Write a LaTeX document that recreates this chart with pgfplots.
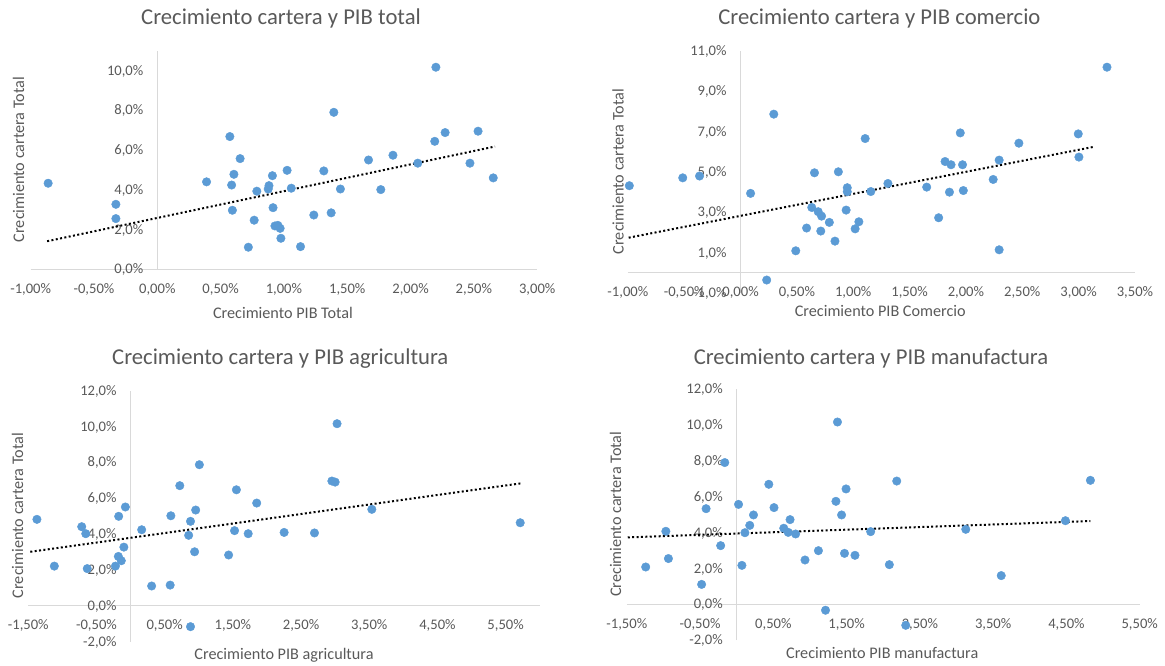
\documentclass[border=0pt]{standalone}
\usepackage{fontspec}
\setmainfont{Carlito}
\usepackage{pgfplots}
\pgfplotsset{compat=1.18}
\definecolor{ptblue}{HTML}{5B9BD5}
\definecolor{txtgray}{HTML}{595959}
\definecolor{axgray}{HTML}{D9D9D9}
\pgfplotsset{
  excel/.style={
    scale only axis,
    axis lines*=middle,
    axis line style={draw=axgray, line width=0.75pt},
    major tick length=0pt,
    hide obscured x ticks=false,
    hide obscured y ticks=false,
    clip=false,
    ticklabel style={font=\fontsize{10.95}{13}\selectfont, text=txtgray, inner sep=0pt},
    xticklabel style={anchor=base, yshift=-18.1pt},
    yticklabel style={anchor=base east, xshift=-10.3pt, yshift=-3.45pt},
    anchor=south west,
  },
  pts/.style={color=ptblue, only marks, mark=*, mark size=3.2pt, mark options={solid, fill=ptblue, draw=ptblue, line width=0.3pt}},
  trend/.style={black, line width=1.5pt, dash pattern=on 1.5pt off 1.8pt, no marks},
}
\newcommand{\ttl}{\fontsize{17}{20}\selectfont\color{txtgray}}
\newcommand{\lbl}{\fontsize{12.15}{14}\selectfont\color{txtgray}}
\begin{document}
\begin{tikzpicture}
% Panel 1
\begin{axis}[excel, at={(23.0pt,296.8pt)}, width=379.9pt, height=163.9pt,
  xmin=-1, xmax=3, ymin=0, ymax=11,
  xtick={-1,-0.5,0,0.5,1,1.5,2,2.5,3},
  xticklabels={{-1,00\%},{-0,50\%},{0,00\%},{0,50\%},{1,00\%},{1,50\%},{2,00\%},{2,50\%},{3,00\%}},
  ytick={0,2,4,6,8,10},
  yticklabels={{0,0\%},{2,0\%},{4,0\%},{6,0\%},{8,0\%},{10,0\%}}]
\addplot[pts] coordinates {(-0.862,4.33) (-0.327,3.27) (-0.327,2.55) (0.389,4.40) (0.573,6.68) (0.587,4.24) (0.605,4.78) (0.593,2.97) (0.654,5.57) (0.786,3.93) (0.765,2.47) (0.719,1.11) (0.882,4.21) (0.876,4.04) (0.909,4.71) (0.914,3.10) (0.929,2.18) (0.952,2.21) (0.970,2.06) (0.976,1.56) (1.025,4.98) (1.058,4.08) (1.131,1.14) (1.236,2.73) (1.315,4.95) (1.373,2.84) (1.394,7.90) (1.446,4.04) (1.668,5.50) (1.765,4.01) (1.861,5.74) (2.057,5.34) (2.191,6.44) (2.200,10.17) (2.273,6.88) (2.469,5.34) (2.533,6.95) (2.653,4.60)};
\addplot[trend] coordinates {(-0.87,1.41) (2.667,6.18)};
\end{axis}
% Panel 2
\begin{axis}[excel, at={(470.9pt,279.2pt)}, width=380.3pt, height=181.4pt,
  xmin=-1, xmax=3.5, ymin=-1, ymax=11,
  xtick={-1,-0.5,0,0.5,1,1.5,2,2.5,3,3.5},
  xticklabels={{-1,00\%},{-0,50\%},{0,00\%},{0,50\%},{1,00\%},{1,50\%},{2,00\%},{2,50\%},{3,00\%},{3,50\%}},
  ytick={-1,1,3,5,7,9,11},
  yticklabels={{-1,0\%},{1,0\%},{3,0\%},{5,0\%},{7,0\%},{9,0\%},{11,0\%}}]
\addplot[pts] coordinates {(-0.987,4.31) (-0.513,4.70) (-0.364,4.79) (0.089,3.93) (0.295,7.86) (0.232,-0.37) (0.490,1.08) (0.586,2.21) (0.632,3.23) (0.656,4.95) (0.689,3.02) (0.719,2.80) (0.712,2.06) (0.788,2.49) (0.838,1.56) (0.868,5.00) (0.947,4.21) (0.947,4.01) (0.937,3.10) (1.017,2.17) (1.050,2.52) (1.106,6.65) (1.156,4.02) (1.308,4.42) (1.652,4.24) (1.758,2.72) (1.815,5.51) (1.868,5.35) (1.854,3.99) (1.950,6.93) (1.970,5.35) (1.977,4.07) (2.242,4.62) (2.295,5.58) (2.295,1.13) (2.470,6.42) (2.997,6.88) (3.003,5.73) (3.252,10.19)};
\addplot[trend] coordinates {(-0.993,1.73) (3.136,6.24)};
\end{axis}
% Panel 3
\begin{axis}[excel, at={(21.2pt,17.6pt)}, width=383.6pt, height=188.1pt,
  xmin=-1.5, xmax=6, ymin=-2, ymax=12,
  xtick={-1.5,-0.5,0.5,1.5,2.5,3.5,4.5,5.5},
  xticklabels={{-1,50\%},{-0,50\%},{0,50\%},{1,50\%},{2,50\%},{3,50\%},{4,50\%},{5,50\%}},
  ytick={-2,0,2,4,6,8,10,12},
  yticklabels={{-2,0\%},{0,0\%},{2,0\%},{4,0\%},{6,0\%},{8,0\%},{10,0\%},{12,0\%}}]
\addplot[pts] coordinates {(-1.373,4.82) (-1.118,2.21) (-0.716,4.41) (-0.657,4.02) (-0.635,2.07) (-0.174,4.99) (-0.076,5.51) (-0.179,2.75) (-0.136,2.51) (-0.222,2.21) (-0.098,3.27) (0.163,4.24) (0.309,1.10) (0.581,1.15) (0.591,5.02) (0.722,6.70) (0.852,3.93) (0.879,4.71) (0.879,-1.17) (0.939,3.01) (0.955,5.34) (1.009,7.87) (1.438,2.83) (1.525,4.19) (1.552,6.47) (1.725,4.02) (1.850,5.73) (2.252,4.09) (2.697,4.06) (2.952,6.96) (3.000,6.90) (3.028,10.16) (3.538,5.38) (5.714,4.63)};
\addplot[trend] coordinates {(-1.470,3.01) (5.724,6.83)};
\end{axis}
% Panel 4
\begin{axis}[excel, at={(470.1pt,18.6pt)}, width=384.7pt, height=188.4pt,
  xmin=-1.5, xmax=5.5, ymin=-2, ymax=12,
  xtick={-1.5,-0.5,0.5,1.5,2.5,3.5,4.5,5.5},
  xticklabels={{-1,50\%},{-0,50\%},{0,50\%},{1,50\%},{2,50\%},{3,50\%},{4,50\%},{5,50\%}},
  ytick={-2,0,2,4,6,8,10,12},
  yticklabels={{-2,0\%},{0,0\%},{2,0\%},{4,0\%},{6,0\%},{8,0\%},{10,0\%},{12,0\%}}]
\addplot[pts] coordinates {(-1.242,2.08) (-0.967,4.07) (-0.932,2.55) (-0.479,1.11) (-0.418,5.33) (-0.219,3.27) (-0.163,7.90) (0.025,5.57) (0.071,2.17) (0.112,3.99) (0.178,4.40) (0.229,4.98) (0.438,6.69) (0.509,5.39) (0.642,4.24) (0.703,4.01) (0.728,4.72) (0.804,3.92) (0.932,2.47) (1.115,2.99) (1.212,-0.33) (1.354,5.74) (1.375,10.16) (1.431,4.98) (1.471,2.84) (1.492,6.43) (1.614,2.73) (1.828,4.05) (2.083,2.21) (2.184,6.87) (2.307,-1.17) (3.126,4.18) (3.610,1.60) (4.486,4.66) (4.827,6.91)};
\addplot[trend] coordinates {(-1.487,3.73) (4.827,4.64)};
\end{axis}
% Titles
\node[anchor=base] at (210.75pt,480pt) {\ttl Crecimiento cartera y PIB total};
\node[anchor=base] at (659.5pt,480pt) {\ttl Crecimiento cartera y PIB comercio};
\node[anchor=base] at (210.2pt,225pt) {\ttl Crecimiento cartera y PIB agricultura};
\node[anchor=base] at (653.25pt,225pt) {\ttl Crecimiento cartera y PIB manufactura};
% Axis labels
\node[anchor=base] at (212.25pt,259.5pt) {\lbl Crecimiento PIB Total};
\node[anchor=base] at (660.2pt,261pt) {\lbl Crecimiento PIB Comercio};
\node[anchor=base] at (213pt,4.5pt) {\lbl Crecimiento PIB agricultura};
\node[anchor=base] at (661.65pt,5.25pt) {\lbl Crecimiento PIB manufactura};
\node[anchor=base, rotate=90] at (18pt,379.1pt) {\lbl Crecimiento cartera Total};
\node[anchor=base, rotate=90] at (467.8pt,370.1pt) {\lbl Crecimiento cartera Total};
\node[anchor=base, rotate=90] at (17.25pt,112.1pt) {\lbl Crecimiento cartera Total};
\node[anchor=base, rotate=90] at (465.75pt,113pt) {\lbl Crecimiento cartera Total};
\pgfresetboundingbox
\path[use as bounding box] (0,0) rectangle (873.75pt,498.75pt);
\end{tikzpicture}
\end{document}
